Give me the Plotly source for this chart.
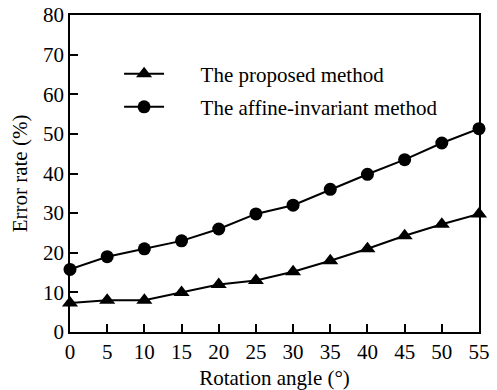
import plotly.graph_objects as go

angles = [0, 5, 10, 15, 20, 25, 30, 35, 40, 45, 50, 55]
proposed = [7.3, 8.0, 8.0, 10.0, 12.0, 13.0, 15.2, 18.0, 21.0, 24.3, 27.2, 29.8]
affine = [15.8, 19.0, 21.0, 23.0, 26.0, 29.8, 32.0, 36.0, 39.8, 43.5, 47.7, 51.3]
x_ticks = [0, 5, 10, 15, 20, 25, 30, 35, 40, 45, 50, 55]
y_ticks = [0, 10, 20, 30, 40, 50, 60, 70, 80]
names = ["The proposed method", "The affine-invariant method"]

font = "Liberation Serif, Times New Roman, serif"
pad = "\u00a0" * 6

fig = go.Figure()
fig.add_trace(go.Scatter(x=angles, y=proposed, mode="lines+markers",
                         name=pad + names[0], legend="legend",
                         line=dict(color="black", width=2),
                         marker=dict(symbol="triangle-up", size=14, color="black"),
                         cliponaxis=False))
fig.add_trace(go.Scatter(x=angles, y=affine, mode="lines+markers",
                         name=pad + names[1], legend="legend2",
                         line=dict(color="black", width=2),
                         marker=dict(symbol="circle", size=13, color="black"),
                         cliponaxis=False))

axis_common = dict(showline=True, linecolor="black", linewidth=1.5, mirror=True,
                   ticks="inside", ticklen=8, tickwidth=1.5, tickcolor="black",
                   showgrid=False, zeroline=False, automargin=False,
                   tickfont=dict(family=font, size=21, color="black"))

fig.update_xaxes(range=[0, 55], tickvals=x_ticks,
                 title=dict(text="Rotation angle (°)", font=dict(family=font, size=21, color="black"), standoff=9),
                 **axis_common)
fig.update_yaxes(range=[0, 80], tickvals=y_ticks,
                 title=dict(text="Error rate (%)", font=dict(family=font, size=21, color="black"), standoff=10),
                 **axis_common)

legend_common = dict(xanchor="left", yanchor="top", bgcolor="rgba(0,0,0,0)",
                     itemwidth=40, font=dict(family=font, size=21, color="black"))

fig.update_layout(
    width=497, height=390,
    margin=dict(l=70, r=18, t=15, b=58),
    paper_bgcolor="white", plot_bgcolor="white",
    showlegend=True,
    legend=dict(x=0.12, y=0.878, **legend_common),
    legend2=dict(x=0.12, y=0.774, **legend_common),
)

fig.write_html("out.html", config={"displayModeBar": False},
               post_script="document.body.style.margin='0';")
